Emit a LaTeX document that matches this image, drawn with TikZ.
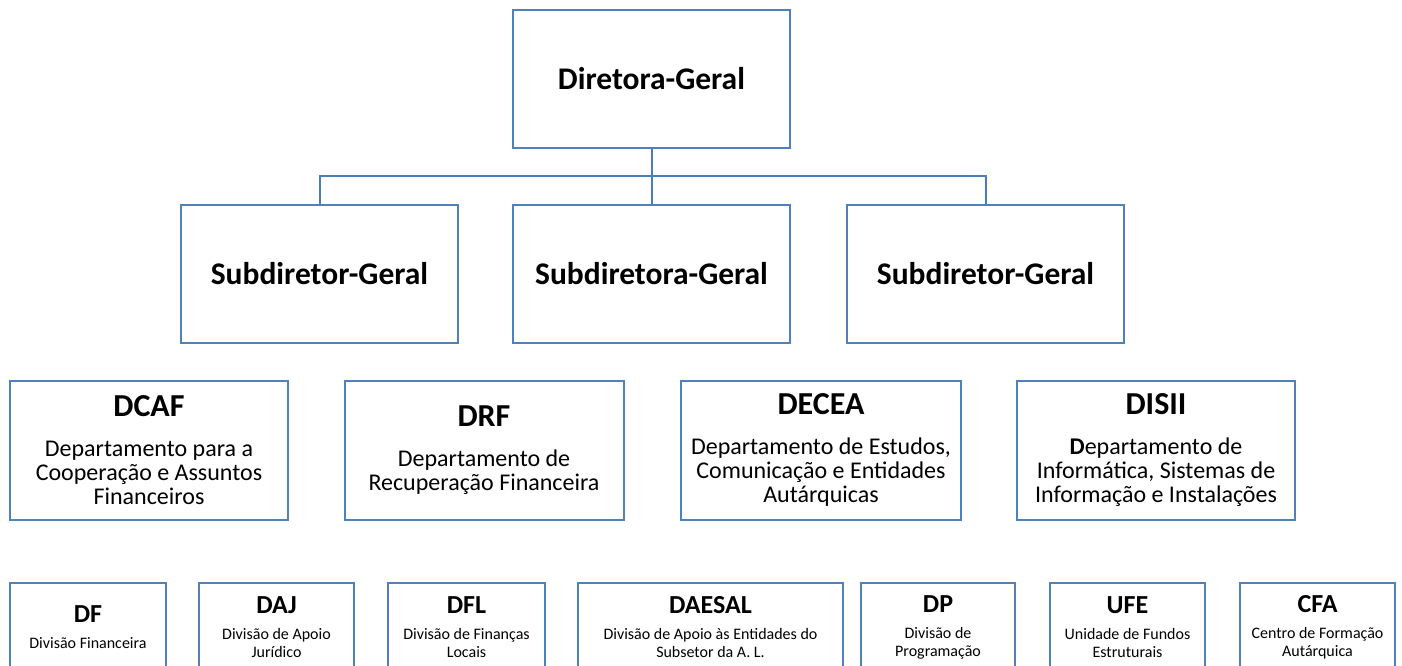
\documentclass[tikz,border=0pt]{standalone}
\usepackage{fontspec}
\setmainfont{Carlito}
\usepackage{xcolor}
\definecolor{boxblue}{HTML}{4F81BD}
\definecolor{linkblue}{HTML}{4A7EBB}

\newcommand{\sigla}[2][32]{{\bfseries\fontsize{#1}{#1}\selectfont #2}}

\begin{document}
\begin{tikzpicture}[x=1pt,y=-1pt,
		chefe/.style={draw=boxblue, line width=2pt, minimum width=277pt, minimum height=138pt, inner sep=0pt, font=\bfseries\fontsize{31.5}{34}\selectfont},
		dep/.style={draw=boxblue, line width=2pt, minimum height=139pt, inner sep=0pt, align=center, font=\fontsize{24}{24}\selectfont},
		div/.style={draw=boxblue, line width=2pt, minimum height=88pt, inner sep=0pt, align=center, font=\fontsize{16}{17.5}\selectfont},
		link/.style={draw=linkblue, line width=2pt}]
	\useasboundingbox (0,0) rectangle (1402,666);
	\clip (0,0) rectangle (1402,666);
	%% ========================================================
	\node[chefe] (dg) at (651.5,79) {Diretora-Geral};
	\node[chefe] (sg1) at (319.5,274) {Subdiretor-Geral};
	\node[chefe] (sg2) at (651.5,274) {Subdiretora-Geral};
	\node[chefe] (sg3) at (985.5,274) {Subdiretor-Geral};

	\coordinate (bus) at (651.5,176);
	\draw[link] (dg.south) -- (bus);
	\draw[link] (bus) -| (sg1.north);
	\draw[link] (bus) -| (sg3.north);
	\draw[link] (bus) -- (sg2.north);
	%% ========================================================

	%% ========================================================
	\node[dep, minimum width=278pt] (dcaf) at (149,450) {\sigla{DCAF}\\[16pt] Departamento para a\\ Cooperação e Assuntos\\ Financeiros};
	\node[dep, minimum width=279pt] (drf) at (484,450) {\sigla{DRF}\\[16pt] Departamento de\\ Recuperação Financeira};
	\node[dep, minimum width=280pt] (decea) at (821,450) {\sigla{DECEA}\\[16pt] Departamento de Estudos,\\ Comunicação e Entidades\\ Autárquicas};
	\node[dep, minimum width=278pt] (disii) at (1156,450) {\sigla{DISII}\\[16pt] \textbf{D}epartamento de\\ Informática, Sistemas de\\ Informação e Instalações};
	%% ========================================================

	%% ========================================================
	\node[div, minimum width=156pt] (df) at (88,627) {\sigla[26]{DF}\\[9pt] Divisão Financeira};
	\node[div, minimum width=155pt] (daj) at (276.5,627) {\sigla[26]{DAJ}\\[9pt] Divisão de Apoio\\ Jurídico};
	\node[div, minimum width=157pt] (dfl) at (466.5,627) {\sigla[26]{DFL}\\[9pt] Divisão de Finanças\\ Locais};
	\node[div, minimum width=265pt] (daesal) at (710.5,627) {\sigla[26]{DAESAL}\\[9pt] Divisão de Apoio às Entidades do\\ Subsetor da A. L.};
	\node[div, minimum width=154pt] (dp) at (938,627) {\sigla[26]{DP}\\[9pt] Divisão de\\ Programação};
	\node[div, minimum width=155pt] (ufe) at (1127.5,627) {\sigla[26]{UFE}\\[9pt] Unidade de Fundos\\ Estruturais};
	\node[div, minimum width=155pt] (cfa) at (1317.5,627) {\sigla[26]{CFA}\\[9pt] Centro de Formação\\ Autárquica};
	%% ========================================================
\end{tikzpicture}
\end{document}
